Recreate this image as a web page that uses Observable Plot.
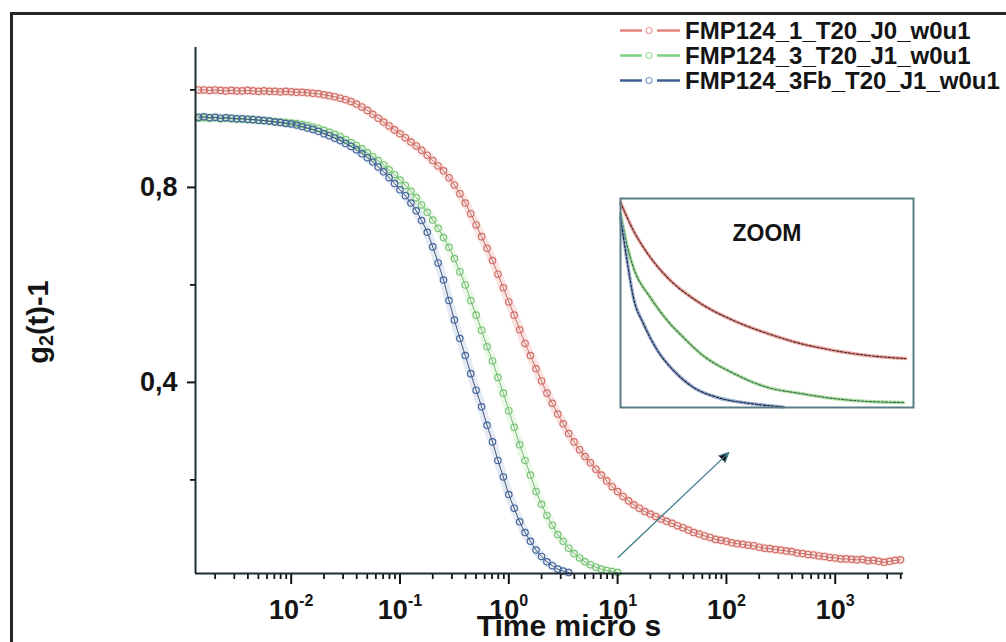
<!DOCTYPE html>
<html>
<head>
<meta charset="utf-8">
<script src="https://cdn.jsdelivr.net/npm/d3@7"></script>
<script src="https://cdn.jsdelivr.net/npm/@observablehq/plot@0.6"></script>
<style>
  html, body { margin: 0; padding: 0; background: #fff; }
  #page { position: relative; width: 1006px; height: 642px; overflow: hidden; background: #fff;
          font-family: "Liberation Sans", Arial, Helvetica, sans-serif; color: #141414; }
  #border { position: absolute; left: 10px; top: 12px; width: 1100px; height: 700px;
            border-left: 3px solid #262626; border-top: 3px solid #262626; }
  #main { position: absolute; left: 0; top: 0; }
  #inset { position: absolute; left: 619px; top: 197px; }
  .legend-row { position: absolute; left: 620px; height: 25px; line-height: 25px; white-space: nowrap;
                font-size: 24px; font-weight: bold; display: flex; align-items: center; }
  .legend-row svg { margin-right: 5px; }
  #ylabel { position: absolute; left: 40px; top: 322px; transform: translate(-50%, -50%) rotate(-90deg);
            font-size: 29px; font-weight: bold; white-space: nowrap; }
  #ylabel sub { font-size: 0.68em; vertical-align: -0.22em; }
  #xlabel { position: absolute; left: 569px; top: 616px; transform: translateX(-50%);
            font-size: 30px; line-height: 20px; font-weight: bold; white-space: nowrap; }
</style>
</head>
<body>
<div id="page">
  <div id="border"></div>
  <div id="main"></div>
  <div id="inset"></div>
  <div id="legend"></div>
  <div id="ylabel">g<sub>2</sub>(t)-1</div>
  <div id="xlabel">Time micro s</div>
</div>
<script>
// ---------------- data ----------------
const seriesNames = ["FMP124_1_T20_J0_w0u1", "FMP124_3_T20_J1_w0u1", "FMP124_3Fb_T20_J1_w0u1"];

// lag times (micro s)
const times = [
  0.00141,0.00158,0.00178,0.002,0.00224,0.00251,0.00282,0.00316,0.00355,0.00398,0.00447,0.00501,0.00562,0.00631,0.00708,0.00794,0.00891,
  0.01,0.0112,0.0126,0.0141,0.0158,0.0178,0.02,0.0224,0.0251,0.0282,0.0316,0.0355,0.0398,0.0447,0.0501,0.0562,0.0631,0.0708,0.0794,0.0891,
  0.1,0.112,0.126,0.141,0.158,0.178,0.2,0.224,0.251,0.282,0.316,0.355,0.398,0.447,0.501,0.562,0.631,0.708,0.794,0.891,
  1,1.12,1.26,1.41,1.58,1.78,2,2.24,2.51,2.82,3.16,3.55,3.98,4.47,5.01,5.62,6.31,7.08,7.94,8.91,
  10,11.2,12.6,14.1,15.8,17.8,20,22.4,25.1,28.2,31.6,35.5,39.8,44.7,50.1,56.2,63.1,70.8,79.4,89.1,
  100,112,126,141,158,178,200,224,251,282,316,355,398,447,501,562,631,708,794,891,
  1000,1120,1260,1410,1580,1780,2000,2240,2510,2820,3160,3550,3980
];

// g2(t)-1 values
const redValues = [
  1.000,1.000,0.999,1.000,0.999,0.998,0.999,0.998,0.998,0.999,0.998,0.997,0.998,0.997,0.997,0.996,0.997,
  0.996,0.995,0.995,0.994,0.993,0.992,0.990,0.988,0.986,0.983,0.980,0.976,0.971,0.965,0.958,0.950,0.942,0.934,0.926,0.918,
  0.910,0.902,0.893,0.885,0.876,0.866,0.855,0.844,0.834,0.820,0.805,0.787,0.768,0.746,0.723,0.699,0.675,0.650,0.622,0.594,
  0.565,0.538,0.508,0.480,0.455,0.428,0.403,0.378,0.357,0.335,0.315,0.295,0.278,0.262,0.248,0.235,0.222,0.210,0.198,0.186,
  0.176,0.166,0.157,0.149,0.142,0.135,0.130,0.125,0.120,0.115,0.111,0.106,0.102,0.097,0.092,0.089,0.085,0.082,0.078,0.076,
  0.074,0.071,0.069,0.068,0.066,0.065,0.062,0.060,0.059,0.057,0.056,0.054,0.053,0.050,0.049,0.047,0.046,0.044,0.043,0.041,
  0.040,0.038,0.038,0.037,0.036,0.037,0.034,0.035,0.033,0.031,0.033,0.035,0.036
];
const greenValues = [
  0.942,0.943,0.942,0.943,0.941,0.942,0.941,0.940,0.940,0.939,0.939,0.938,0.937,0.936,0.935,0.934,0.933,
  0.932,0.931,0.929,0.927,0.924,0.921,0.917,0.913,0.909,0.904,0.898,0.892,0.886,0.879,0.871,0.863,0.855,0.846,0.836,0.826,
  0.815,0.804,0.792,0.779,0.764,0.749,0.733,0.716,0.697,0.677,0.654,0.627,0.600,0.568,0.538,0.507,0.473,0.444,0.410,0.378,
  0.342,0.308,0.272,0.240,0.210,0.176,0.150,0.127,0.107,0.088,0.074,0.060,0.049,0.040,0.032,0.026,0.021,0.017,0.014,0.012,
  0.010
];
const blueValues = [
  0.944,0.945,0.943,0.944,0.942,0.943,0.942,0.941,0.941,0.940,0.939,0.938,0.937,0.936,0.934,0.933,0.931,
  0.930,0.928,0.925,0.922,0.919,0.915,0.910,0.906,0.901,0.896,0.890,0.884,0.877,0.869,0.861,0.852,0.842,0.832,0.820,0.808,
  0.795,0.783,0.768,0.752,0.732,0.708,0.678,0.645,0.610,0.568,0.528,0.490,0.455,0.418,0.384,0.350,0.312,0.278,0.240,0.206,
  0.170,0.142,0.114,0.092,0.074,0.056,0.043,0.032,0.024,0.017,0.013,0.010
];

// inset ("ZOOM") curves, relative units 0..1
const insetRedX   = [0, 0.044, 0.102, 0.160, 0.273, 0.386, 0.502, 0.614, 0.727, 0.843, 0.973];
const insetRedY   = [0.981, 0.847, 0.718, 0.622, 0.498, 0.416, 0.354, 0.306, 0.273, 0.249, 0.234];
const insetGreenX = [0, 0.024, 0.044, 0.102, 0.160, 0.215, 0.273, 0.386, 0.502, 0.614, 0.727, 0.843, 0.966];
const insetGreenY = [0.928, 0.766, 0.670, 0.526, 0.416, 0.335, 0.258, 0.163, 0.096, 0.067, 0.043, 0.029, 0.024];
const insetBlueX  = [0, 0.024, 0.044, 0.078, 0.126, 0.181, 0.249, 0.331, 0.444, 0.556];
const insetBlueY  = [0.909, 0.689, 0.526, 0.402, 0.273, 0.177, 0.096, 0.048, 0.019, 0.003];

// axes
const xDomain = [0.00132, 4240];
const yDomain = [0.008, 1.087];
const xTicksMajor = [0.01, 0.1, 1, 10, 100, 1000];
const xTickExponents = ["-2", "-1", "0", "1", "2", "3"];
const xTicksMinor = [
  0.002,0.003,0.004,0.005,0.006,0.007,0.008,0.009,
  0.02,0.03,0.04,0.05,0.06,0.07,0.08,0.09,
  0.2,0.3,0.4,0.5,0.6,0.7,0.8,0.9,
  2,3,4,5,6,7,8,9,
  20,30,40,50,60,70,80,90,
  200,300,400,500,600,700,800,900,
  2000,3000,4000
];
const yTicksMajor = [0.4, 0.8];
const yTickLabels = ["0,4", "0,8"];
const yTicksMinor = [0.2, 0.6, 1.0];

// arrow annotation (from near 10^1 toward the inset)
const arrowFrom = {t: 10.1, v: 0.041};
const arrowTo = {t: 105, v: 0.256};

// ---------------- styles ----------------
const styles = [
  {values: redValues,   dot: "#cf6d66", halo: "#f3a39b", line: "#b05450", legendLine: "#e4837c", legendDot: "#e7a09a"},
  {values: greenValues, dot: "#74c474", halo: "#bfe8b4", line: "#5aa65a", legendLine: "#7fd07f", legendDot: "#9fdc9a"},
  {values: blueValues,  dot: "#42639c", halo: "#a9bcda", line: "#1c2c52", legendLine: "#3f5f90", legendDot: "#7f9cc8"}
];

const seriesRows = styles.map((s, k) => s.values.map((v, i) => ({t: times[i], v, s: seriesNames[k]})));

const marks = [];
styles.forEach((s, k) => {
  marks.push(Plot.line(seriesRows[k], {x: "t", y: "v", stroke: s.halo, strokeWidth: 9, strokeOpacity: 0.3, curve: "monotone-x"}));
});
styles.forEach((s, k) => {
  marks.push(Plot.line(seriesRows[k], {x: "t", y: "v", stroke: s.line, strokeWidth: 0.8, curve: "monotone-x"}));
  marks.push(Plot.dot(seriesRows[k], {x: "t", y: "v", r: 3.2, stroke: s.dot, strokeWidth: 1.15, fill: "none"}));
});

const main = Plot.plot({
  width: 1006, height: 642,
  marginLeft: 195, marginRight: 103, marginTop: 47, marginBottom: 69,
  style: {background: "transparent", fontFamily: "'Liberation Sans', Arial, Helvetica, sans-serif", color: "#141414", overflow: "visible"},
  x: {type: "log", domain: xDomain, label: null},
  y: {domain: yDomain, label: null},
  marks: [
    ...marks,
    Plot.arrow([{from: arrowFrom, to: arrowTo}], {
      x1: d => d.from.t, y1: d => d.from.v, x2: d => d.to.t, y2: d => d.to.v,
      stroke: "#3f7d8a", fill: "#111", strokeWidth: 1.3, headLength: 12, headAngle: 50
    }),
    Plot.axisX(xTicksMinor, {tickSize: 6, tickFormat: () => "", strokeWidth: 1.8, label: null}),
    Plot.axisX(xTicksMajor, {
      tickSize: 11, tickPadding: 15, strokeWidth: 2, label: null,
      fontSize: 27, fontWeight: "bold",
      tickFormat: d => "10|" + xTickExponents[xTicksMajor.indexOf(d)]
    }),
    Plot.axisY(yTicksMinor, {tickSize: 5, tickFormat: () => "", strokeWidth: 1.8, label: null}),
    Plot.axisY(yTicksMajor, {
      tickSize: 8, tickPadding: 10, strokeWidth: 2, label: null,
      fontSize: 27, fontWeight: "bold",
      tickFormat: d => yTickLabels[yTicksMajor.indexOf(d)]
    }),
    Plot.ruleX([xDomain[0]], {stroke: "#1d2b30", strokeWidth: 2}),
    Plot.ruleY([yDomain[0]], {stroke: "#1d2b30", strokeWidth: 2})
  ]
});

// superscript exponents on the x tick labels
const ns = "http://www.w3.org/2000/svg";
main.querySelectorAll("text").forEach(t => {
  const s = t.textContent;
  if (!s.includes("|")) return;
  const [base, exp] = s.split("|");
  t.textContent = "";
  const a = document.createElementNS(ns, "tspan");
  a.textContent = base;
  const b = document.createElementNS(ns, "tspan");
  b.textContent = exp;
  b.setAttribute("dy", "-13");
  b.setAttribute("font-size", "16");
  t.append(a, b);
});
document.getElementById("main").append(main);

// ---------------- inset ----------------
const insetSets = [
  {x: insetRedX, y: insetRedY, halo: "#e88a82", core: "#4a2424"},
  {x: insetGreenX, y: insetGreenY, halo: "#9ad67e", core: "#2f6a5a"},
  {x: insetBlueX, y: insetBlueY, halo: "#7e9ac4", core: "#141e3c"}
];
const insetMarks = [];
insetSets.forEach(s => {
  const rows = s.x.map((x, i) => ({x, y: s.y[i]}));
  insetMarks.push(Plot.line(rows, {x: "x", y: "y", stroke: s.halo, strokeWidth: 3.5, strokeOpacity: 0.75, curve: "monotone-x"}));
  insetMarks.push(Plot.line(rows, {x: "x", y: "y", stroke: s.core, strokeWidth: 1.1, strokeDasharray: "2.5,1.5", curve: "monotone-x"}));
});
const inset = Plot.plot({
  width: 295, height: 211,
  marginLeft: 1, marginRight: 1, marginTop: 1, marginBottom: 1,
  style: {background: "#fff", fontFamily: "'Liberation Sans', Arial, Helvetica, sans-serif", color: "#141414", overflow: "visible"},
  x: {domain: [0, 1], axis: null},
  y: {domain: [0, 1], axis: null},
  marks: [
    ...insetMarks,
    Plot.frame({stroke: "#5a7c89", strokeWidth: 2}),
    Plot.text(["ZOOM"], {frameAnchor: "top", dy: 35, lineAnchor: "middle", fontSize: 23, fontWeight: "bold", fill: "#141414"})
  ]
});
document.getElementById("inset").append(inset);

// ---------------- legend ----------------
const legend = document.getElementById("legend");
seriesNames.forEach((name, k) => {
  const s = styles[k];
  const row = document.createElement("div");
  row.className = "legend-row";
  row.style.top = (18 + 25 * k) + "px";
  row.innerHTML =
    `<svg width="60" height="25" viewBox="0 0 60 25">
       <line x1="0" y1="12.5" x2="22" y2="12.5" stroke="${s.legendLine}" stroke-width="2.5"/>
       <line x1="37" y1="12.5" x2="60" y2="12.5" stroke="${s.legendLine}" stroke-width="2.5"/>
       <circle cx="29" cy="12.5" r="3" fill="none" stroke="${s.legendDot}" stroke-width="1.2"/>
     </svg><span>${name}</span>`;
  legend.append(row);
});
</script>
</body>
</html>
